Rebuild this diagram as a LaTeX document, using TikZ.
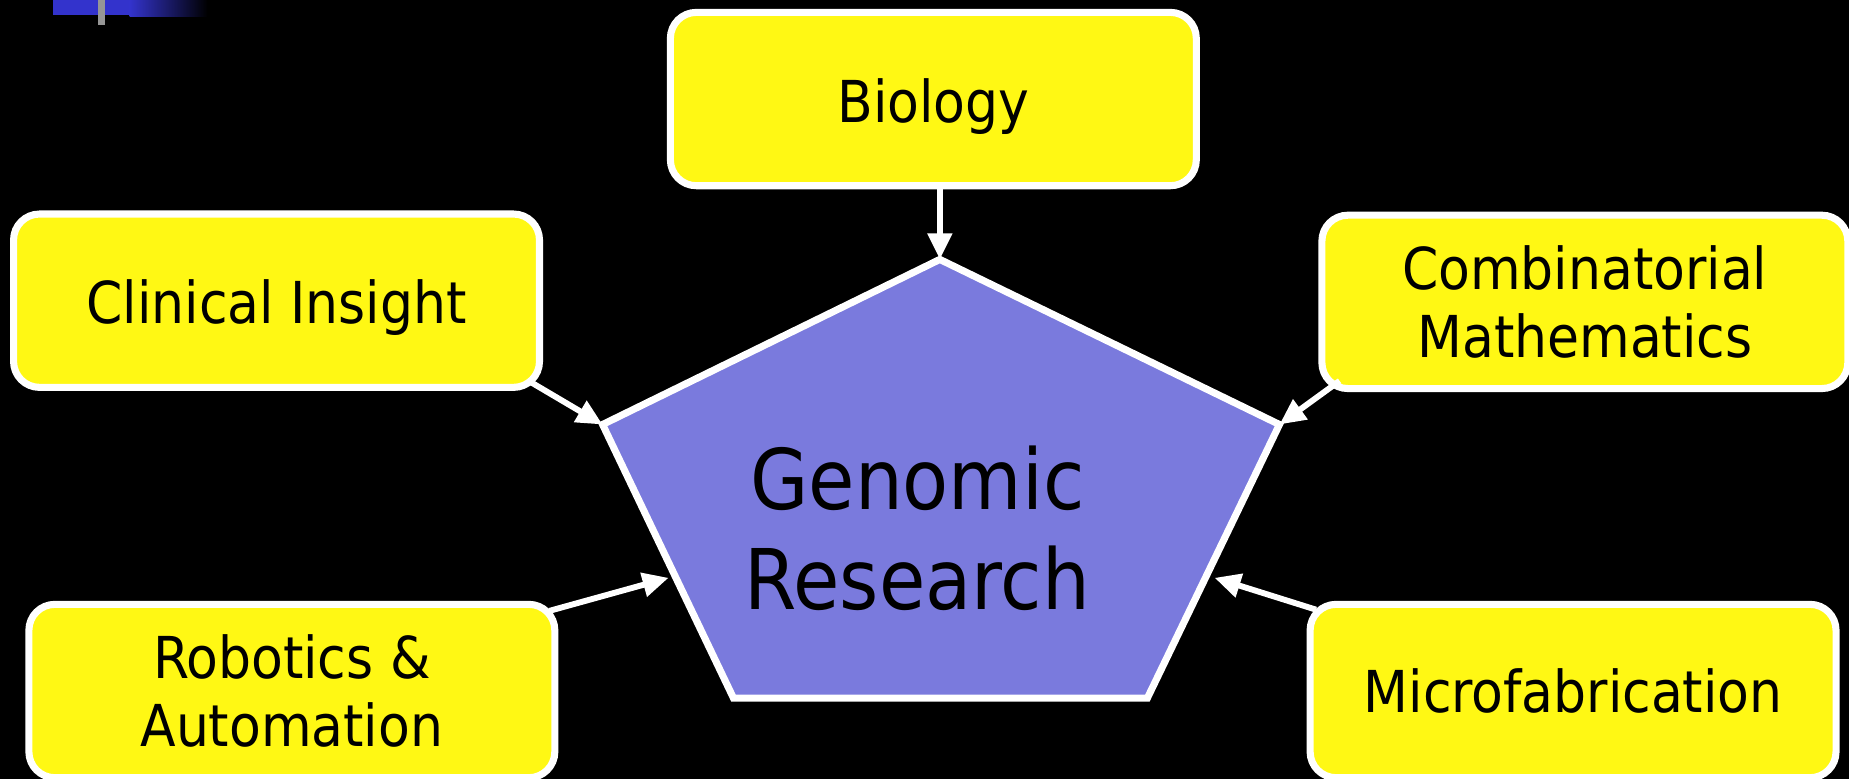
\documentclass[tikz,border=0pt]{standalone}
\usepackage{fontspec}
\setmainfont{DejaVu Sans Condensed}
\usetikzlibrary{arrows.meta}
\definecolor{boxyellow}{RGB}{255,248,20}
\definecolor{pentblue}{RGB}{122,122,221}
\definecolor{barblue}{RGB}{51,51,204}
\definecolor{bargray}{RGB}{150,150,150}
\tikzset{
  fieldbox/.style={draw=white, line width=6pt, fill=boxyellow, rounded corners=22pt,
    minimum width=446pt, minimum height=147pt, align=center, text=black,
    font=\fontsize{49}{58}\selectfont, inner sep=0pt},
  fieldtext/.style={align=center, text=black, font=\fontsize{49}{58}\selectfont, inner sep=0pt},
  link/.style={draw=white, line width=5pt, -{Triangle[length=22pt,width=20pt]}},
  pent/.style={draw=white, line width=6pt, fill=pentblue, line join=miter}
}
\begin{document}
\begin{tikzpicture}[x=1pt,y=-1pt]
\fill[black] (0,0) rectangle (1568,661);
\useasboundingbox (0,0) rectangle (1568,661);
% top-left decoration
\fill[barblue] (45,0) rectangle (110,13);
\shade[left color=barblue, right color=black] (110,0) rectangle (176,14);
\fill[bargray] (83,0) rectangle (89,21);
% pentagon
\coordinate (P1) at (797,220);
\coordinate (P2) at (1085,360);
\coordinate (P3) at (973,592);
\coordinate (P4) at (622,592);
\coordinate (P5) at (511,360);
\coordinate (Pr) at (1030,490);
\coordinate (Pl) at (567,490);
\path[pent] (P1) -- (P2) -- (P3) -- (P4) -- (P5) -- cycle;
\node[align=center, text=black, font=\fontsize{71}{85}\selectfont, inner sep=0pt] (gen) at (778,448) {Genomic\\Research};
% boxes
\node[fieldbox] (bio) at (791.5,84) {};
\node[fieldtext] (bioT) at (791.5,90) {Biology};
\node[fieldbox] (clin) at (234.5,255) {};
\node[fieldtext] (clinT) at (234.5,261) {Clinical Insight};
\node[fieldbox] (comb) at (1344,256) {Combinatorial\\Mathematics};
\node[fieldbox] (rob) at (247.5,586) {Robotics \&\\Automation};
\node[fieldbox] (micro) at (1334,586) {Microfabrication};
% arrow starts
\coordinate (s1) at (797,160);
\coordinate (s2) at (450,324);
\coordinate (s3) at (1136,323);
\coordinate (s4) at (466,518);
\coordinate (s5) at (1116,517);
\draw[link] (s1) -- (P1);
\draw[link] (s2) -- (P5);
\draw[link] (s3) -- (P2);
\draw[link] (s4) -- (Pl);
\draw[link] (s5) -- (Pr);
\end{tikzpicture}
\end{document}
